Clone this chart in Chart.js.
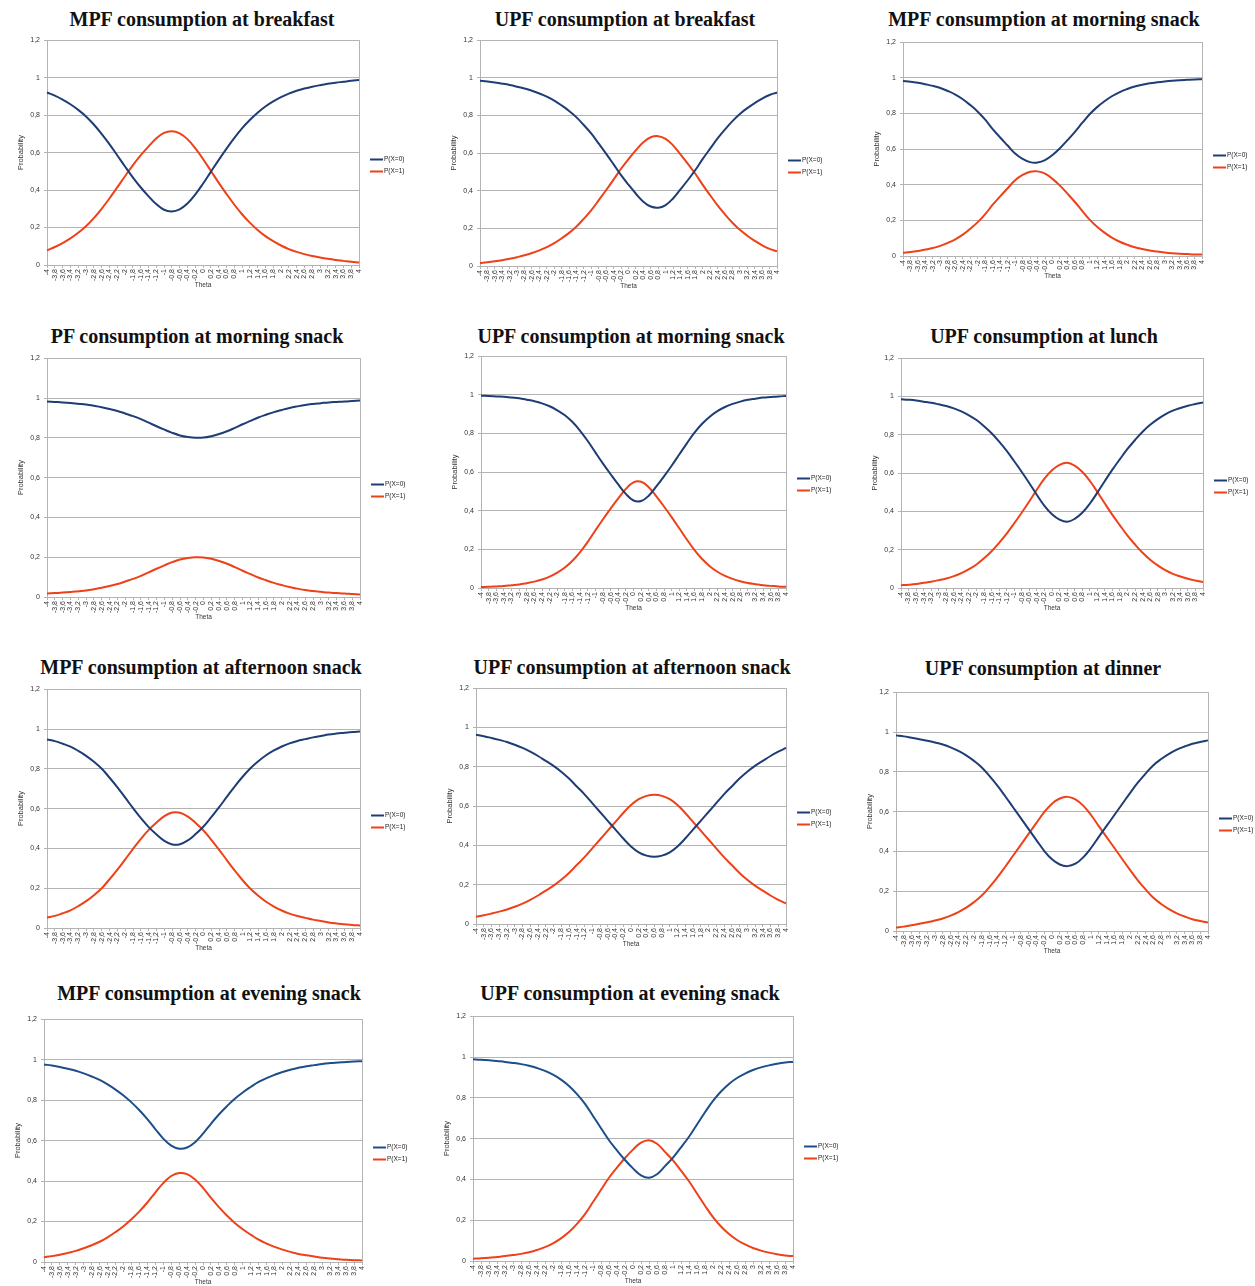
<!DOCTYPE html>
<html>
<head>
<meta charset="utf-8">
<script src="https://cdn.jsdelivr.net/npm/chart.js@4.4.1/dist/chart.umd.min.js"></script>
<style>
body { margin:0; background:#fff; width:1255px; height:1286px; position:relative; overflow:hidden; }
.ttl { position:absolute; font:bold 20px "Liberation Serif", "Times New Roman", serif; line-height:20px; color:#111; white-space:nowrap; transform:translateX(-50%); }
canvas { position:absolute; }
</style>
</head>
<body>
<script>
var theta = [-4,-3.8,-3.6,-3.4,-3.2,-3,-2.8,-2.6,-2.4,-2.2,-2,-1.8,-1.6,-1.4,-1.2,-1,-0.8,-0.6,-0.4,-0.2,0,0.2,0.4,0.6,0.8,1,1.2,1.4,1.6,1.8,2,2.2,2.4,2.6,2.8,3,3.2,3.4,3.6,3.8,4];

var mpfBreakfastP0 = [0.921,0.904,0.883,0.858,0.828,0.793,0.75,0.70,0.645,0.586,0.526,0.468,0.415,0.368,0.325,0.295,0.286,0.297,0.328,0.376,0.434,0.497,0.56,0.62,0.677,0.729,0.774,0.813,0.846,0.873,0.896,0.915,0.93,0.942,0.952,0.96,0.967,0.973,0.978,0.983,0.987];
var mpfBreakfastP1 = [0.079,0.096,0.117,0.142,0.172,0.207,0.25,0.30,0.355,0.414,0.474,0.532,0.585,0.632,0.675,0.705,0.714,0.703,0.672,0.624,0.566,0.503,0.44,0.38,0.323,0.271,0.226,0.187,0.154,0.127,0.104,0.085,0.07,0.058,0.048,0.04,0.033,0.027,0.022,0.017,0.013];

var upfBreakfastP0 = [0.984,0.98,0.975,0.969,0.962,0.953,0.943,0.931,0.917,0.90,0.879,0.853,0.824,0.79,0.748,0.703,0.65,0.596,0.54,0.483,0.432,0.384,0.342,0.316,0.31,0.324,0.359,0.407,0.457,0.51,0.569,0.624,0.678,0.726,0.77,0.808,0.839,0.866,0.89,0.909,0.922];
var upfBreakfastP1 = [0.016,0.02,0.025,0.031,0.038,0.047,0.057,0.069,0.083,0.10,0.121,0.147,0.176,0.21,0.252,0.297,0.35,0.404,0.46,0.517,0.568,0.616,0.658,0.684,0.69,0.676,0.641,0.593,0.543,0.49,0.431,0.376,0.322,0.274,0.23,0.192,0.161,0.134,0.11,0.091,0.078];

var mpfMorningP0 = [0.982,0.978,0.972,0.964,0.955,0.943,0.926,0.906,0.88,0.847,0.81,0.765,0.712,0.665,0.62,0.575,0.545,0.527,0.525,0.538,0.567,0.605,0.65,0.697,0.748,0.797,0.837,0.87,0.898,0.92,0.937,0.951,0.961,0.969,0.975,0.98,0.984,0.987,0.989,0.991,0.992];
var mpfMorningP1 = [0.018,0.022,0.028,0.036,0.045,0.057,0.074,0.094,0.12,0.153,0.19,0.235,0.288,0.335,0.38,0.425,0.455,0.473,0.475,0.462,0.433,0.395,0.35,0.303,0.252,0.203,0.163,0.13,0.102,0.08,0.063,0.049,0.039,0.031,0.025,0.02,0.016,0.013,0.011,0.009,0.008];

var pfMorningP0 = [0.982,0.98,0.978,0.975,0.971,0.967,0.961,0.954,0.945,0.935,0.922,0.909,0.894,0.876,0.858,0.841,0.825,0.812,0.804,0.80,0.801,0.808,0.819,0.833,0.85,0.868,0.885,0.902,0.916,0.929,0.94,0.95,0.958,0.965,0.97,0.974,0.978,0.98,0.982,0.985,0.988];
var pfMorningP1 = [0.018,0.02,0.022,0.025,0.029,0.033,0.039,0.046,0.055,0.065,0.078,0.091,0.106,0.124,0.142,0.159,0.175,0.188,0.196,0.2,0.199,0.192,0.181,0.167,0.15,0.132,0.115,0.098,0.084,0.071,0.06,0.05,0.042,0.035,0.03,0.026,0.022,0.02,0.018,0.015,0.012];

var upfMorningP0 = [0.995,0.994,0.992,0.99,0.986,0.982,0.975,0.967,0.956,0.941,0.92,0.894,0.859,0.814,0.761,0.702,0.644,0.589,0.536,0.487,0.453,0.45,0.478,0.526,0.578,0.633,0.691,0.749,0.804,0.85,0.887,0.916,0.937,0.953,0.965,0.974,0.98,0.986,0.989,0.992,0.994];
var upfMorningP1 = [0.005,0.006,0.008,0.01,0.014,0.018,0.025,0.033,0.044,0.059,0.08,0.106,0.141,0.186,0.239,0.298,0.356,0.411,0.464,0.513,0.547,0.55,0.522,0.474,0.422,0.367,0.309,0.251,0.196,0.15,0.113,0.084,0.063,0.047,0.035,0.026,0.02,0.014,0.011,0.008,0.006];

var upfLunchP0 = [0.986,0.983,0.979,0.973,0.967,0.959,0.95,0.938,0.922,0.902,0.877,0.845,0.808,0.764,0.716,0.662,0.606,0.547,0.486,0.429,0.385,0.357,0.346,0.361,0.393,0.44,0.498,0.559,0.618,0.673,0.726,0.773,0.816,0.852,0.882,0.907,0.926,0.94,0.952,0.961,0.969];
var upfLunchP1 = [0.014,0.017,0.021,0.027,0.033,0.041,0.05,0.062,0.078,0.098,0.123,0.155,0.192,0.236,0.284,0.338,0.394,0.453,0.514,0.571,0.615,0.643,0.654,0.639,0.607,0.56,0.502,0.441,0.382,0.327,0.274,0.227,0.184,0.148,0.118,0.093,0.074,0.06,0.048,0.039,0.031];

var mpfAfternoonP0 = [0.947,0.939,0.926,0.911,0.89,0.865,0.835,0.80,0.755,0.707,0.655,0.602,0.552,0.507,0.47,0.438,0.42,0.421,0.44,0.472,0.51,0.557,0.607,0.66,0.712,0.76,0.803,0.838,0.868,0.892,0.912,0.928,0.94,0.949,0.958,0.965,0.972,0.977,0.981,0.985,0.987];
var mpfAfternoonP1 = [0.053,0.061,0.074,0.089,0.11,0.135,0.165,0.2,0.245,0.293,0.345,0.398,0.448,0.493,0.53,0.562,0.58,0.579,0.56,0.528,0.49,0.443,0.393,0.34,0.288,0.24,0.197,0.162,0.132,0.108,0.088,0.072,0.06,0.051,0.042,0.035,0.028,0.023,0.019,0.015,0.013];

var upfAfternoonP0 = [0.963,0.956,0.947,0.937,0.926,0.912,0.896,0.877,0.855,0.83,0.805,0.775,0.74,0.70,0.66,0.615,0.57,0.525,0.48,0.435,0.395,0.365,0.348,0.342,0.348,0.365,0.395,0.435,0.48,0.525,0.57,0.615,0.66,0.70,0.74,0.775,0.805,0.83,0.855,0.877,0.896];
var upfAfternoonP1 = [0.037,0.044,0.053,0.063,0.074,0.088,0.104,0.123,0.145,0.17,0.195,0.225,0.26,0.3,0.34,0.385,0.43,0.475,0.52,0.565,0.605,0.635,0.652,0.658,0.652,0.635,0.605,0.565,0.52,0.475,0.43,0.385,0.34,0.3,0.26,0.225,0.195,0.17,0.145,0.123,0.104];

var upfDinnerP0 = [0.983,0.978,0.971,0.964,0.956,0.947,0.937,0.923,0.905,0.883,0.855,0.822,0.778,0.73,0.677,0.622,0.567,0.512,0.457,0.403,0.36,0.334,0.326,0.338,0.37,0.417,0.473,0.528,0.583,0.638,0.693,0.745,0.791,0.833,0.864,0.89,0.911,0.927,0.941,0.95,0.958];
var upfDinnerP1 = [0.017,0.022,0.029,0.036,0.044,0.053,0.063,0.077,0.095,0.117,0.145,0.178,0.222,0.27,0.323,0.378,0.433,0.488,0.543,0.597,0.64,0.666,0.674,0.662,0.63,0.583,0.527,0.472,0.417,0.362,0.307,0.255,0.209,0.167,0.136,0.11,0.089,0.073,0.059,0.05,0.042];

var mpfEveningP0 = [0.976,0.971,0.964,0.955,0.945,0.932,0.917,0.90,0.878,0.852,0.823,0.789,0.75,0.706,0.657,0.61,0.575,0.56,0.566,0.592,0.634,0.683,0.729,0.77,0.807,0.838,0.865,0.89,0.909,0.925,0.939,0.95,0.96,0.967,0.973,0.979,0.983,0.986,0.989,0.991,0.992];
var mpfEveningP1 = [0.024,0.029,0.036,0.045,0.055,0.068,0.083,0.1,0.122,0.148,0.177,0.211,0.25,0.294,0.343,0.39,0.425,0.44,0.434,0.408,0.366,0.317,0.271,0.23,0.193,0.162,0.135,0.11,0.091,0.075,0.061,0.05,0.04,0.033,0.027,0.021,0.017,0.014,0.011,0.009,0.008];

var upfEveningP0 = [0.989,0.987,0.984,0.98,0.976,0.971,0.965,0.957,0.946,0.932,0.913,0.889,0.858,0.818,0.77,0.711,0.651,0.592,0.542,0.495,0.454,0.42,0.408,0.425,0.465,0.507,0.557,0.609,0.669,0.729,0.785,0.831,0.868,0.897,0.919,0.936,0.949,0.959,0.967,0.973,0.976];
var upfEveningP1 = [0.011,0.013,0.016,0.02,0.024,0.029,0.035,0.043,0.054,0.068,0.087,0.111,0.142,0.182,0.23,0.289,0.349,0.408,0.458,0.505,0.546,0.58,0.592,0.575,0.535,0.493,0.443,0.391,0.331,0.271,0.215,0.169,0.132,0.103,0.081,0.064,0.051,0.041,0.033,0.027,0.024];

var seriesLabels = ['P(X=0)', 'P(X=1)'];

// panel layout: title centre / baseline, plot box edges, first legend row
var panels = [
  {title:'MPF consumption at breakfast', p0:mpfBreakfastP0, p1:mpfBreakfastP1, cx:202, base:26, L:47, R:359, T:40, B:265, leg:159},
  {title:'UPF consumption at breakfast', p0:upfBreakfastP0, p1:upfBreakfastP1, cx:625, base:26, L:480, R:777, T:40, B:266, leg:160},
  {title:'MPF consumption at morning snack', p0:mpfMorningP0, p1:mpfMorningP1, cx:1044, base:26, L:903, R:1202, T:42, B:256, leg:155},
  {title:'PF consumption at morning snack', p0:pfMorningP0, p1:pfMorningP1, cx:197, base:343, L:47, R:360, T:358, B:597, leg:484},
  {title:'UPF consumption at morning snack', p0:upfMorningP0, p1:upfMorningP1, cx:631, base:343, L:481, R:786, T:356, B:588, leg:478},
  {title:'UPF consumption at lunch', p0:upfLunchP0, p1:upfLunchP1, cx:1044, base:343, L:901, R:1203, T:358, B:588, leg:480},
  {title:'MPF consumption at afternoon snack', p0:mpfAfternoonP0, p1:mpfAfternoonP1, cx:201, base:674, L:47, R:360, T:689, B:928, leg:815},
  {title:'UPF consumption at afternoon snack', p0:upfAfternoonP0, p1:upfAfternoonP1, cx:632, base:674, L:476, R:786, T:688, B:924, leg:812},
  {title:'UPF consumption at dinner', p0:upfDinnerP0, p1:upfDinnerP1, cx:1043, base:675, L:896, R:1208, T:692, B:931, leg:818},
  {title:'MPF consumption at evening snack', p0:mpfEveningP0, p1:mpfEveningP1, cx:209, base:1000, L:44, R:362, T:1019, B:1262, leg:1147, blue:'#1d4e8a'},
  {title:'UPF consumption at evening snack', p0:upfEveningP0, p1:upfEveningP1, cx:630, base:1000, L:473, R:793, T:1016, B:1261, leg:1146, blue:'#1d4e8a'}
];

var SANS = '"Liberation Sans", Arial, sans-serif';
var GRID = '#b3b3b3';

function comma(v) {
    return String(v).replace('.', ',');
}

// right edge of the plot frame
var frame = {
    id: 'frame',
    beforeDatasetsDraw(chart) {
        var a = chart.chartArea, ctx = chart.ctx;
        var x = Math.round(a.right) + 0.5;
        ctx.save();
        ctx.strokeStyle = GRID;
        ctx.lineWidth = 1;
        ctx.beginPath();
        ctx.moveTo(x, a.top);
        ctx.lineTo(x, a.bottom);
        ctx.stroke();
        ctx.restore();
    }
};

// small line legend next to the plot, like the spreadsheet export
var sideLegend = {
    id: 'sideLegend',
    afterDraw(chart, args, opts) {
        var a = chart.chartArea, ctx = chart.ctx;
        ctx.save();
        ctx.font = '6.5px ' + SANS;
        ctx.textBaseline = 'middle';
        chart.data.datasets.forEach(function (ds, i) {
            var y = Math.round(opts.y + i * 12) + 0.5;
            ctx.strokeStyle = ds.borderColor;
            ctx.lineWidth = 2;
            ctx.beginPath();
            ctx.moveTo(a.right + 11, y);
            ctx.lineTo(a.right + 24, y);
            ctx.stroke();
            ctx.fillStyle = '#222';
            ctx.fillText(ds.label, a.right + 25, y);
        });
        ctx.restore();
    }
};

panels.forEach(function (p) {
    var yW = 40, rightPad = 60, topPad = 8, xH = 26;
    var cv = document.createElement('canvas');
    cv.width = (p.R - p.L) + yW + rightPad;
    cv.height = (p.B - p.T) + topPad + xH + 2;
    cv.style.left = (p.L - yW) + 'px';
    cv.style.top = (p.T - topPad) + 'px';
    document.body.appendChild(cv);

    var t = document.createElement('div');
    t.className = 'ttl';
    t.textContent = p.title;
    t.style.left = p.cx + 'px';
    t.style.top = (p.base - 16.75) + 'px';
    document.body.appendChild(t);

    new Chart(cv, {
        type: 'line',
        data: {
            labels: theta,
            datasets: [
                {label: seriesLabels[0], data: p.p0, borderColor: p.blue || '#1f3d75', backgroundColor: p.blue || '#1f3d75'},
                {label: seriesLabels[1], data: p.p1, borderColor: '#ee4118', backgroundColor: '#ee4118'}
            ]
        },
        options: {
            responsive: false,
            animation: false,
            devicePixelRatio: 1,
            layout: {padding: {left: 0, top: topPad, right: rightPad, bottom: 2}},
            elements: {
                point: {radius: 0},
                line: {borderWidth: 2, tension: 0.4, fill: false}
            },
            plugins: {
                legend: {display: false},
                tooltip: {enabled: false},
                sideLegend: {y: p.leg - (p.T - topPad)}
            },
            scales: {
                x: {
                    afterFit: function (s) { s.height = xH; },
                    grid: {display: true, drawOnChartArea: false, drawTicks: true, tickLength: 3, color: GRID},
                    border: {color: GRID},
                    ticks: {
                        autoSkip: false, minRotation: 90, maxRotation: 90, padding: 1,
                        color: '#333', font: {size: 7, family: SANS},
                        callback: function (v, i) { return comma(theta[i]); }
                    },
                    title: {display: true, text: 'Theta', color: '#333', font: {size: 6.5, family: SANS}, padding: {top: 0, bottom: 2}}
                },
                y: {
                    min: 0, max: 1.2,
                    afterFit: function (s) { s.width = yW; },
                    grid: {color: GRID, tickLength: 3},
                    border: {color: GRID},
                    ticks: {
                        stepSize: 0.2, padding: 4,
                        color: '#333', font: {size: 7, family: SANS},
                        callback: function (v) { return comma(Number(v.toFixed(1))); }
                    },
                    title: {display: true, text: 'Probability', color: '#333', font: {size: 7.5, family: SANS}, padding: {top: 9, bottom: 0}}
                }
            }
        },
        plugins: [frame, sideLegend]
    });
});
</script>
</body>
</html>
